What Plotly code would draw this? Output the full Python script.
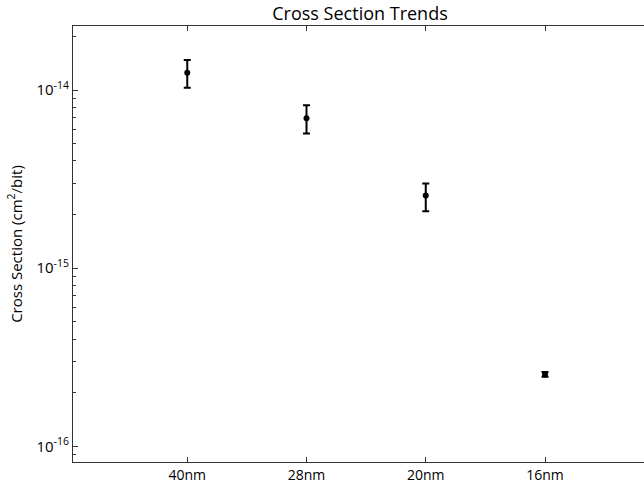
import plotly.graph_objects as go

nodes = ["40nm", "28nm", "20nm", "16nm"]
cross_section = [1.25e-14, 6.96e-15, 2.56e-15, 2.53e-16]
err_upper = [1.475e-14, 8.23e-15, 2.99e-15, 2.61e-16]
err_lower = [1.03e-14, 5.71e-15, 2.09e-15, 2.46e-16]

plus = [u - c for u, c in zip(err_upper, cross_section)]
minus = [c - l for l, c in zip(err_lower, cross_section)]

major_ticks = [1e-16, 1e-15, 1e-14]
minor_ticks = [m * d for d in [1e-17, 1e-16, 1e-15, 1e-14] for m in range(2, 10)]

fig = go.Figure()
fig.add_trace(go.Scatter(
    x=nodes, y=cross_section, mode="markers",
    marker=dict(color="black", size=6),
    error_y=dict(type="data", array=plus, arrayminus=minus, visible=True,
                 color="black", thickness=2, width=3.5),
    showlegend=False,
))

font = "Open Sans, sans-serif"
fig.update_layout(
    width=644, height=483,
    margin=dict(l=73, r=0, t=26, b=21),
    paper_bgcolor="white", plot_bgcolor="white",
    font=dict(family=font, color="black", size=14),
    title=dict(text="Cross Section Trends", x=360/644, xanchor="center",
               y=1 - 14/483, yanchor="middle", font=dict(size=18, family=font)),
)
fig.update_xaxes(
    type="category", range=[-0.958, 3.83],
    showline=True, linecolor="#333", linewidth=1, mirror="ticks",
    ticks="inside", ticklen=5, tickcolor="#333",
    showgrid=False, zeroline=False, tickfont=dict(size=14),
)
fig.update_yaxes(
    type="log", range=[-16.088, -13.640],
    showline=True, linecolor="#333", linewidth=1, mirror=False,
    ticks="inside", ticklen=5, tickcolor="#333",
    tickvals=major_ticks,
    ticktext=["10<sup>-16</sup>", "10<sup>-15</sup>", "10<sup>-14</sup>"],
    minor=dict(ticks="inside", ticklen=3, tickcolor="#333", showgrid=False,
               tickvals=minor_ticks),
    showgrid=False, zeroline=False, tickfont=dict(size=15),
    title=dict(text="Cross Section (cm<sup>2</sup>/bit)", font=dict(size=15), standoff=10),
)

fig.write_html("out.html")
